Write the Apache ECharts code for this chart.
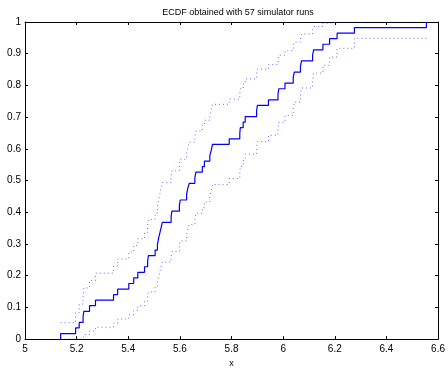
<!DOCTYPE html>
<html>
<head>
<meta charset="utf-8">
<script src="https://cdn.jsdelivr.net/npm/echarts@6/dist/echarts.min.js"></script>
<style>html,body{margin:0;padding:0;background:#fff;}#c{width:448px;height:373px;}</style>
</head>
<body>
<div id="c"></div>
<script>
var titleText = 'ECDF obtained with 57 simulator runs';
var xTicks = [5, 5.2, 5.4, 5.6, 5.8, 6, 6.2, 6.4, 6.6];
var yTicks = [0, 0.1, 0.2, 0.3, 0.4, 0.5, 0.6, 0.7, 0.8, 0.9, 1];
var stepX = [5.138,5.196,5.210,5.225,5.228,5.250,5.273,5.343,5.359,5.402,5.421,5.437,5.463,5.475,5.478,5.504,5.513,5.517,5.522,5.527,5.532,5.566,5.569,5.598,5.601,5.626,5.630,5.636,5.658,5.662,5.687,5.695,5.716,5.722,5.726,5.791,5.832,5.834,5.845,5.853,5.897,5.900,5.943,5.980,5.983,6.007,6.039,6.043,6.067,6.071,6.114,6.118,6.154,6.180,6.209,6.276,6.555];
var ecdfF = [0.0175,0.0351,0.0526,0.0702,0.0877,0.1053,0.1228,0.1404,0.1579,0.1754,0.1930,0.2105,0.2281,0.2456,0.2632,0.2807,0.2982,0.3158,0.3333,0.3509,0.3684,0.3860,0.4035,0.4211,0.4386,0.4561,0.4737,0.4912,0.5088,0.5263,0.5439,0.5614,0.5789,0.5965,0.6140,0.6316,0.6491,0.6667,0.6842,0.7018,0.7193,0.7368,0.7544,0.7719,0.7895,0.8070,0.8246,0.8421,0.8596,0.8772,0.8947,0.9123,0.9298,0.9474,0.9649,0.9825,1.0];
var lowerB = [0,0,0,0.0039,0.0143,0.0256,0.0376,0.0502,0.0632,0.0767,0.0905,0.1047,0.1191,0.1339,0.1488,0.1641,0.1795,0.1951,0.2110,0.2270,0.2432,0.2596,0.2761,0.2929,0.3098,0.3268,0.3441,0.3615,0.3790,0.3967,0.4146,0.4326,0.4508,0.4691,0.4877,0.5063,0.5252,0.5443,0.5635,0.5830,0.6026,0.6225,0.6426,0.6630,0.6836,0.7046,0.7258,0.7474,0.7695,0.7920,0.8151,0.8388,0.8635,0.8894,0.9171,0.9484];
var upperB = [0.0516,0.0829,0.1106,0.1365,0.1612,0.1849,0.2080,0.2305,0.2526,0.2742,0.2954,0.3164,0.3370,0.3574,0.3775,0.3974,0.4170,0.4365,0.4557,0.4748,0.4937,0.5123,0.5309,0.5492,0.5674,0.5854,0.6033,0.6210,0.6386,0.6559,0.6732,0.6902,0.7071,0.7239,0.7404,0.7568,0.7730,0.7891,0.8049,0.8205,0.8359,0.8512,0.8661,0.8809,0.8953,0.9095,0.9233,0.9368,0.9498,0.9624,0.9744,0.9857,0.9961,1,1,1];

var mainData = [[stepX[0], 0]].concat(stepX.map(function (x, i) { return [x, ecdfF[i]]; }));
function boundData(b) {
  var d = b.map(function (v, i) { return [stepX[i], v]; });
  d.push([stepX[stepX.length - 1], b[b.length - 1]]);
  return d;
}

var font = 'Liberation Sans, Arial, Helvetica, sans-serif';
var chart = echarts.init(document.getElementById('c'), null, {renderer: 'canvas'});
function xAx(pos, show) {
  return {
    type: 'value', position: pos, min: xTicks[0], max: xTicks[xTicks.length - 1], interval: 0.2,
    axisLine: {show: true, onZero: false, lineStyle: {color: '#000', width: 1}},
    axisTick: {show: true, inside: true, length: 3, lineStyle: {color: '#000'}},
    axisLabel: {show: show, color: '#000', fontSize: 10, fontFamily: font, margin: 5,
      formatter: function (v) { return String(Math.round(v * 10) / 10); }},
    splitLine: {show: false},
    name: show ? 'x' : '', nameLocation: 'middle', nameGap: 17,
    nameTextStyle: {color: '#000', fontSize: 9, fontFamily: font}
  };
}
function yAx(pos, show) {
  return {
    type: 'value', position: pos, min: yTicks[0], max: yTicks[yTicks.length - 1], interval: 0.1,
    axisLine: {show: true, onZero: false, lineStyle: {color: '#000', width: 1}},
    axisTick: {show: true, inside: true, length: 3, lineStyle: {color: '#000'}},
    axisLabel: {show: show, color: '#000', fontSize: 10, fontFamily: font, margin: 4,
      formatter: function (v) { return String(Math.round(v * 10) / 10); }},
    splitLine: {show: false}
  };
}
chart.setOption({
  animation: false,
  backgroundColor: '#fff',
  title: {text: titleText, left: 233, textAlign: 'center', top: 3,
    textStyle: {color: '#000', fontSize: 9, fontWeight: 'normal', fontFamily: font}},
  grid: {left: 25, top: 22, width: 416, height: 329, containLabel: false},
  xAxis: [xAx('bottom', true), xAx('top', false)],
  yAxis: [yAx('left', true), yAx('right', false)],
  series: [
    {type: 'line', step: 'end', data: boundData(upperB), showSymbol: false, silent: true,
      lineStyle: {color: '#0000ff', width: 1, type: [1, 3], opacity: 0.6}},
    {type: 'line', step: 'end', data: boundData(lowerB), showSymbol: false, silent: true,
      lineStyle: {color: '#0000ff', width: 1, type: [1, 3], opacity: 0.6}},
    {type: 'line', step: 'end', data: mainData, showSymbol: false, silent: true,
      lineStyle: {color: '#0000ff', width: 1.2}}
  ]
});
</script>
</body>
</html>
